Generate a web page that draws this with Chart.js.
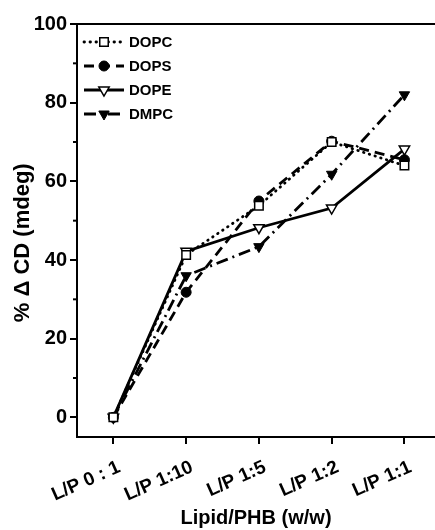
<!DOCTYPE html>
<html lang="en">
<head>
  <meta charset="UTF-8">
  <title>% Delta CD vs Lipid/PHB</title>
  <script src="https://cdn.jsdelivr.net/npm/chart.js"></script>
  <style>
    body {
      margin: 0;
      background: #fff;
      overflow: hidden;
    }
    canvas { display: block; }
  </style>
</head>
<body>
  <canvas id="cdChart" width="435" height="530"></canvas>
  <script>
    // data
    const categories = ['L/P 0 : 1', 'L/P 1:10', 'L/P 1:5', 'L/P 1:2', 'L/P 1:1'];
    const dopc = [0, 41.3, 53.8, 70, 64];
    const dops = [0, 31.8, 55, 70.2, 65.5];
    const dope = [0, 42.2, 48.2, 53.2, 68.2];
    const dmpc = [0, 36, 43.4, 61.8, 82];
    const yTicks = [0, 20, 40, 60, 80, 100];
    const yMinorTicks = [10, 30, 50, 70, 90];

    const FONT = 'Liberation Sans';
    const toPoints = arr => arr.map((v, i) => ({ x: i, y: v }));

    // legend inside the plot, line + marker + name
    const insideLegend = {
      id: 'insideLegend',
      afterDraw(chart) {
        const ctx = chart.ctx;
        const x0 = chart.chartArea.left + 7;
        const y0 = chart.chartArea.top + 18;
        chart.data.datasets.forEach((ds, i) => {
          const y = y0 + i * 24;
          ctx.save();
          ctx.strokeStyle = '#000';
          ctx.lineWidth = ds.borderWidth;
          ctx.lineCap = ds.borderCapStyle || 'butt';
          ctx.setLineDash(ds.borderDash || []);
          ctx.beginPath();
          ctx.moveTo(x0, y);
          ctx.lineTo(x0 + 40, y);
          ctx.stroke();
          ctx.setLineDash([]);
          ctx.lineCap = 'butt';
          ctx.fillStyle = ds.pointBackgroundColor;
          ctx.lineWidth = ds.pointBorderWidth;
          Chart.helpers.drawPoint(ctx, {
            pointStyle: ds.pointStyle,
            rotation: ds.pointRotation || 0,
            radius: ds.pointRadius,
            borderWidth: ds.pointBorderWidth
          }, x0 + 20, y);
          ctx.fillStyle = '#000';
          ctx.font = 'bold 15px "' + FONT + '"';
          ctx.textBaseline = 'middle';
          ctx.fillText(ds.label, x0 + 45, y + 1);
          ctx.restore();
        });
      }
    };

    // top frame line and short minor ticks on the y axis
    const frame = {
      id: 'frame',
      afterDraw(chart) {
        const ctx = chart.ctx;
        const a = chart.chartArea;
        const ys = chart.scales.y;
        ctx.save();
        ctx.strokeStyle = '#000';
        ctx.lineWidth = 2;
        ctx.beginPath();
        ctx.moveTo(a.left - 1, a.top);
        ctx.lineTo(a.right, a.top);
        ctx.stroke();
        yMinorTicks.forEach(v => {
          const py = ys.getPixelForValue(v);
          ctx.beginPath();
          ctx.moveTo(a.left - 4, py);
          ctx.lineTo(a.left, py);
          ctx.stroke();
        });
        ctx.restore();
      }
    };

    const ctx = document.getElementById('cdChart').getContext('2d');
    new Chart(ctx, {
      type: 'line',
      data: {
        datasets: [
          {
            label: 'DOPC', data: toPoints(dopc),
            borderColor: '#000', borderWidth: 2.8, borderDash: [0.5, 5.5], borderCapStyle: 'round',
            pointStyle: 'rect', pointRadius: 6, pointBackgroundColor: '#fff',
            pointBorderColor: '#000', pointBorderWidth: 1.5
          },
          {
            label: 'DOPS', data: toPoints(dops),
            borderColor: '#000', borderWidth: 2.8, borderDash: [10, 6],
            pointStyle: 'circle', pointRadius: 5, pointBackgroundColor: '#000',
            pointBorderColor: '#000', pointBorderWidth: 1
          },
          {
            label: 'DOPE', data: toPoints(dope),
            borderColor: '#000', borderWidth: 2.8,
            pointStyle: 'triangle', pointRotation: 180, pointRadius: 6, pointBackgroundColor: '#fff',
            pointBorderColor: '#000', pointBorderWidth: 1.5
          },
          {
            label: 'DMPC', data: toPoints(dmpc),
            borderColor: '#000', borderWidth: 2.8, borderDash: [12, 5, 2, 5],
            pointStyle: 'triangle', pointRotation: 180, pointRadius: 6, pointBackgroundColor: '#000',
            pointBorderColor: '#000', pointBorderWidth: 1
          }
        ]
      },
      options: {
        responsive: false,
        animation: false,
        devicePixelRatio: 1,
        layout: { autoPadding: false, padding: { top: 24, right: 0, left: 0, bottom: 0 } },
        scales: {
          x: {
            type: 'linear',
            min: -0.5,
            max: 4.42,
            afterBuildTicks: s => { s.ticks = categories.map((c, i) => ({ value: i })); },
            afterFit: s => { s.height = 93; },
            ticks: {
              callback: v => categories[v],
              minRotation: 24, maxRotation: 24,
              padding: 12, labelOffset: 6,
              color: '#000',
              font: { family: FONT, size: 19, weight: 'bold' }
            },
            grid: { drawOnChartArea: false, tickLength: 7, lineWidth: 2, color: '#000' },
            border: { display: true, color: '#000', width: 2 },
            title: {
              display: true, text: 'Lipid/PHB (w/w)', color: '#000',
              font: { family: FONT, size: 20, weight: 'bold' },
              padding: { top: -1, bottom: 0 }
            }
          },
          y: {
            min: -5,
            max: 100,
            afterBuildTicks: s => { s.ticks = yTicks.map(v => ({ value: v })); },
            afterFit: s => { s.width = 77; },
            ticks: {
              color: '#000', padding: 3,
              font: { family: FONT, size: 20, weight: 'bold' }
            },
            grid: { drawOnChartArea: false, tickLength: 7, lineWidth: 2, color: '#000' },
            border: { display: true, color: '#000', width: 2 },
            title: {
              display: true, text: '% Δ CD (mdeg)    ', color: '#000',
              font: { family: FONT, size: 22, weight: 'bold' },
              padding: { top: 10, bottom: 0 }
            }
          }
        },
        plugins: {
          legend: { display: false },
          tooltip: { enabled: false }
        }
      },
      plugins: [insideLegend, frame]
    });
  </script>
</body>
</html>
